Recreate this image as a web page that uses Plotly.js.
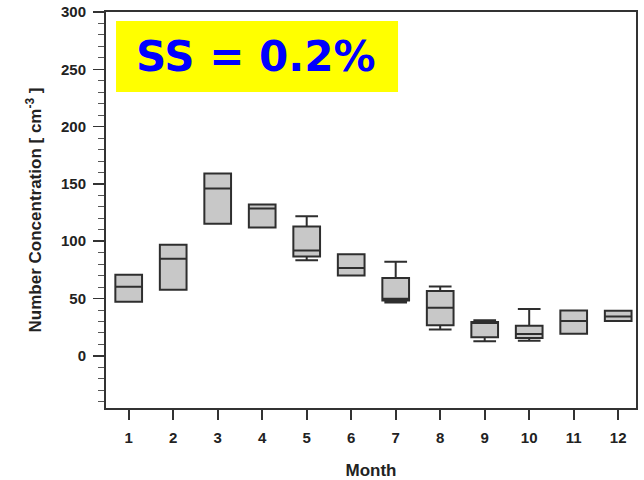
<!DOCTYPE html>
<html>
<head>
<meta charset="utf-8">
<script src="https://cdn.plot.ly/plotly-3.0.1.min.js"></script>
<style>html,body{margin:0;padding:0;background:#fff;}#chart{width:644px;height:480px;}</style>
</head>
<body>
<div id="chart"></div>
<script>
var months = [1, 2, 3, 4, 5, 6, 7, 8, 9, 10, 11, 12];
var q1Values = [47.2, 57.7, 115.2, 112, 86.6, 70, 48.4, 26.8, 16.3, 15.5, 19.2, 30.3];
var medianValues = [60.3, 84.8, 146, 128.6, 92, 76.7, 49.9, 42, 29.1, 19, 30.3, 34.4];
var q3Values = [70.8, 97, 159.2, 132, 112.8, 88.6, 68, 56.6, 29.5, 26.2, 39.6, 39.4];
var lowerValues = [47.2, 57.7, 115.2, 112, 83.4, 70, 46.6, 23, 12.8, 13.1, 19.2, 30.3];
var upperValues = [70.8, 97, 159.2, 132, 121.8, 88.6, 82.2, 60.6, 31, 40.8, 39.6, 39.4];
var yTickValues = [0, 50, 100, 150, 200, 250, 300];
var labelText = 'SS = 0.2%';

var trace = {
  type: 'box',
  x: months,
  q1: q1Values,
  median: medianValues,
  q3: q3Values,
  lowerfence: lowerValues,
  upperfence: upperValues,
  width: 0.6,
  whiskerwidth: 0.85,
  fillcolor: '#c8c8c8',
  line: {color: '#2e2e2e', width: 2},
  boxpoints: false,
  hoverinfo: 'none'
};

var axisFont = {family: 'Liberation Sans, Arial, sans-serif', size: 15, color: '#222', weight: 'bold'};
var titleFont = {family: 'Liberation Sans, Arial, sans-serif', size: 17, color: '#222', weight: 'bold'};
var layout = {
  width: 644, height: 480,
  margin: {l: 106, r: 8, t: 12, b: 72},
  paper_bgcolor: '#ffffff',
  plot_bgcolor: '#ffffff',
  showlegend: false,
  xaxis: {
    range: [0.49, 12.4],
    tickmode: 'array', tickvals: months, ticktext: months.map(String),
    ticks: 'outside', ticklen: 10, tickwidth: 2, tickcolor: '#333',
    ticklabelstandoff: 5,
    showline: true, linecolor: '#333', linewidth: 2, mirror: true,
    showgrid: false, zeroline: false,
    tickfont: axisFont,
    title: {text: 'Month', standoff: 19, font: titleFont}
  },
  yaxis: {
    range: [-45.5, 300],
    tickmode: 'array', tickvals: yTickValues, ticktext: yTickValues.map(String),
    ticks: 'outside', ticklen: 11, tickwidth: 1.5, tickcolor: '#333',
    minor: {dtick: 10, tick0: 0, ticks: 'outside', ticklen: 6, tickwidth: 1, tickcolor: '#555', showgrid: false},
    ticklabelstandoff: 4,
    showline: true, linecolor: '#333', linewidth: 2, mirror: true,
    showgrid: false, zeroline: false,
    tickfont: axisFont,
    title: {text: 'Number Concentration [ cm<sup>-3</sup> ]', standoff: 15, font: titleFont}
  },
  shapes: [{
    type: 'rect', xref: 'paper', yref: 'paper',
    x0: 0.0189, x1: 0.551, y0: 0.798, y1: 0.977,
    fillcolor: '#ffff00', line: {width: 0}, layer: 'above'
  }],
  annotations: [{
    xref: 'paper', yref: 'paper', x: 0.283, y: 0.887,
    xanchor: 'center', yanchor: 'middle', showarrow: false,
    text: labelText,
    font: {family: 'DejaVu Sans, Verdana, sans-serif', size: 42, color: '#0000ff', weight: 'bold'}
  }]
};

Plotly.newPlot('chart', [trace], layout, {displayModeBar: false, staticPlot: true});
</script>
</body>
</html>
